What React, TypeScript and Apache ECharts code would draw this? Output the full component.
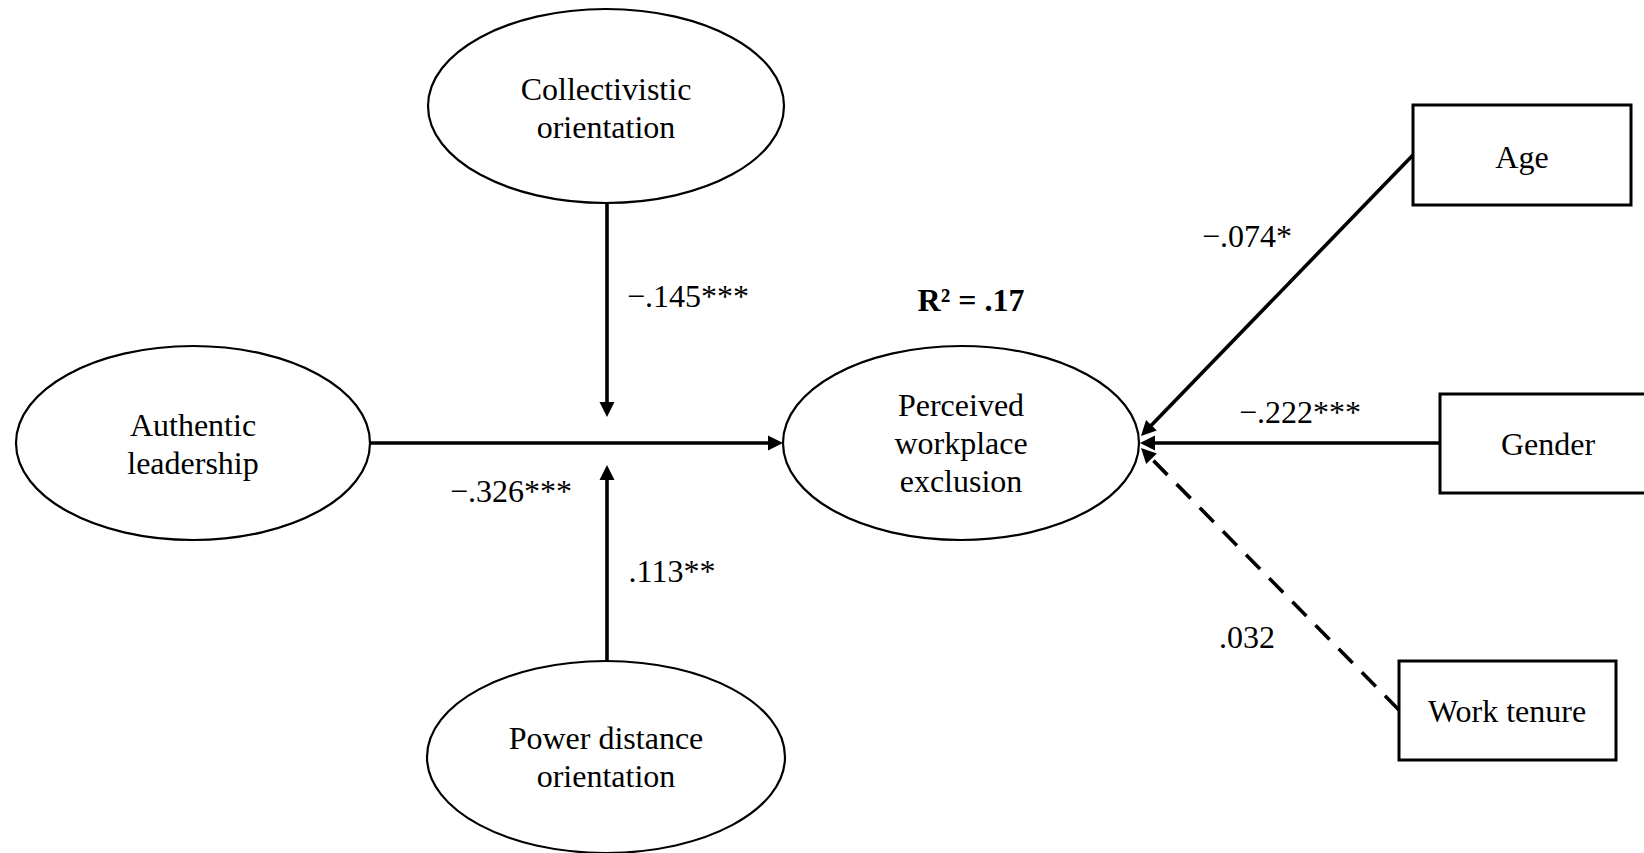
import React, { useEffect, useRef } from "react";
import * as echarts from "echarts";

// ---- content ----
const constructs = [
  "Authentic\nleadership",
  "Collectivistic\norientation",
  "Power distance\norientation",
  "Perceived\nworkplace\nexclusion",
];
const controls = ["Age", "Gender", "Work tenure"];
const pathCoefficients = ["−.326***", "−.145***", ".113**", "−.074*", "−.222***", ".032"];
const pathSignificant = [true, true, true, true, true, false];
const rSquaredLabel = "R² = .17";

// ---- layout (pixels) ----
const ellipseLayout = [
  { cx: 193, cy: 443, rx: 177, ry: 97, ty: 444 },
  { cx: 606, cy: 106, rx: 178, ry: 97, ty: 108 },
  { cx: 606, cy: 757, rx: 179, ry: 96, ty: 757 },
  { cx: 961, cy: 443, rx: 178, ry: 97, ty: 443 },
];
const boxLayout = [
  { x: 1413, y: 105, w: 218, h: 100, tx: 1522, ty: 157 },
  { x: 1440, y: 394, w: 230, h: 99, tx: 1548, ty: 444 },
  { x: 1399, y: 661, w: 217, h: 99, tx: 1507, ty: 711 },
];
const pathLayout = [
  { from: [371, 443], to: [783, 443] },
  { from: [607, 203], to: [607, 417] },
  { from: [607, 661], to: [607, 465] },
  { from: [1413, 155], to: [1141, 436] },
  { from: [1440, 443], to: [1140, 443] },
  { from: [1399, 710], to: [1141, 448] },
];
const labelLayout = [
  [511, 491],
  [688, 296],
  [672, 571],
  [1247, 236],
  [1300, 412],
  [1247, 637],
];
const rSquaredPos = [971, 300];

const FONT = '"Liberation Serif", "Times New Roman", serif';
const FS = 32;

function buildGraphics() {
  const els: any[] = [];
  constructs.forEach((name, i) => {
    const e = ellipseLayout[i];
    els.push({
      type: "ellipse",
      shape: { cx: e.cx, cy: e.cy, rx: e.rx, ry: e.ry },
      style: { fill: "#fff", stroke: "#000", lineWidth: 2.2 },
      z: 1,
    });
    els.push({
      type: "text",
      x: e.cx,
      y: e.ty,
      style: {
        text: name,
        fontFamily: FONT,
        fontSize: FS,
        lineHeight: 38,
        fill: "#000",
        align: "center",
        verticalAlign: "middle",
      },
      z: 3,
    });
  });
  controls.forEach((name, i) => {
    const b = boxLayout[i];
    els.push({
      type: "rect",
      shape: { x: b.x, y: b.y, width: b.w, height: b.h },
      style: { fill: "#fff", stroke: "#000", lineWidth: 3 },
      z: 1,
    });
    els.push({
      type: "text",
      x: b.tx,
      y: b.ty,
      style: {
        text: name,
        fontFamily: FONT,
        fontSize: FS,
        fill: "#000",
        align: "center",
        verticalAlign: "middle",
      },
      z: 3,
    });
  });
  pathCoefficients.forEach((coef, i) => {
    const p = pathLayout[i];
    const [x1, y1] = p.from;
    const [x2, y2] = p.to;
    const dx = x2 - x1;
    const dy = y2 - y1;
    const len = Math.hypot(dx, dy);
    const ux = dx / len;
    const uy = dy / len;
    const headLen = 15;
    const headHalf = 7.5;
    const bx = x2 - ux * headLen;
    const by = y2 - uy * headLen;
    els.push({
      type: "line",
      shape: { x1, y1, x2: x2 - ux * headLen * 0.6, y2: y2 - uy * headLen * 0.6 },
      style: {
        stroke: "#000",
        lineWidth: 3.6,
        lineDash: pathSignificant[i] ? null : [20, 13],
      },
      z: 2,
    });
    els.push({
      type: "polygon",
      shape: {
        points: [
          [x2, y2],
          [bx - uy * headHalf, by + ux * headHalf],
          [bx + uy * headHalf, by - ux * headHalf],
        ],
      },
      style: { fill: "#000" },
      z: 2,
    });
    const [lx, ly] = labelLayout[i];
    els.push({
      type: "text",
      x: lx,
      y: ly,
      style: {
        text: coef,
        fontFamily: FONT,
        fontSize: FS,
        fill: "#000",
        align: "center",
        verticalAlign: "middle",
      },
      z: 3,
    });
  });
  els.push({
    type: "text",
    x: rSquaredPos[0],
    y: rSquaredPos[1],
    style: {
      text: rSquaredLabel,
      fontFamily: FONT,
      fontSize: FS,
      fontWeight: "bold",
      fill: "#000",
      align: "center",
      verticalAlign: "middle",
    },
    z: 3,
  });
  return els;
}

export default function App() {
  const ref = useRef<HTMLDivElement>(null);
  useEffect(() => {
    if (!ref.current) return;
    const chart = echarts.init(ref.current, undefined, { renderer: "svg" });
    chart.setOption({
      animation: false,
      backgroundColor: "#fff",
      graphic: { elements: buildGraphics() },
    });
    return () => chart.dispose();
  }, []);
  return (
    <div
      ref={ref}
      style={{ position: "fixed", left: 0, top: 0, width: 1644, height: 853, background: "#fff" }}
    />
  );
}
